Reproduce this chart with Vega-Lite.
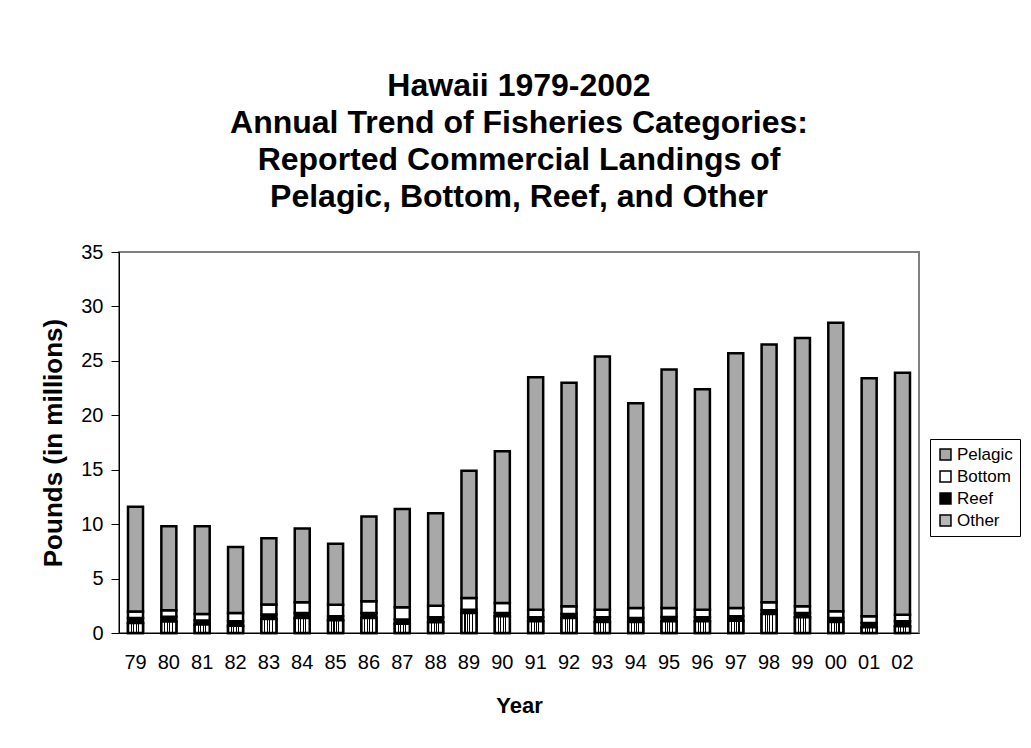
{
  "$schema": "https://vega.github.io/schema/vega-lite/v6.json",
  "width": 800,
  "height": 381,
  "padding": {"left": 40, "top": 70, "right": 0, "bottom": 0},
  "background": "white",
  "title": {
    "text": ["Hawaii 1979-2002", "Annual Trend of Fisheries Categories:", "Reported Commercial Landings of", "Pelagic, Bottom, Reef, and Other"],
    "font": "Liberation Sans",
    "fontSize": 32,
    "fontWeight": "bold",
    "lineHeight": 37,
    "color": "black",
    "anchor": "middle",
    "offset": 28
  },
  "datasets": {
    "landings": [
      {"year": "79", "category": "Other", "value": 0.92}, {"year": "79", "category": "Reef", "value": 0.46}, {"year": "79", "category": "Bottom", "value": 0.6}, {"year": "79", "category": "Pelagic", "value": 9.62},
      {"year": "80", "category": "Other", "value": 1.05}, {"year": "80", "category": "Reef", "value": 0.45}, {"year": "80", "category": "Bottom", "value": 0.6}, {"year": "80", "category": "Pelagic", "value": 7.7},
      {"year": "81", "category": "Other", "value": 0.77}, {"year": "81", "category": "Reef", "value": 0.37}, {"year": "81", "category": "Bottom", "value": 0.6}, {"year": "81", "category": "Pelagic", "value": 8.06},
      {"year": "82", "category": "Other", "value": 0.67}, {"year": "82", "category": "Reef", "value": 0.4}, {"year": "82", "category": "Bottom", "value": 0.77}, {"year": "82", "category": "Pelagic", "value": 6.06},
      {"year": "83", "category": "Other", "value": 1.29}, {"year": "83", "category": "Reef", "value": 0.4}, {"year": "83", "category": "Bottom", "value": 0.92}, {"year": "83", "category": "Pelagic", "value": 6.09},
      {"year": "84", "category": "Other", "value": 1.38}, {"year": "84", "category": "Reef", "value": 0.46}, {"year": "84", "category": "Bottom", "value": 0.98}, {"year": "84", "category": "Pelagic", "value": 6.78},
      {"year": "85", "category": "Other", "value": 1.16}, {"year": "85", "category": "Reef", "value": 0.37}, {"year": "85", "category": "Bottom", "value": 1.07}, {"year": "85", "category": "Pelagic", "value": 5.6},
      {"year": "86", "category": "Other", "value": 1.38}, {"year": "86", "category": "Reef", "value": 0.46}, {"year": "86", "category": "Bottom", "value": 1.07}, {"year": "86", "category": "Pelagic", "value": 7.79},
      {"year": "87", "category": "Other", "value": 0.86}, {"year": "87", "category": "Reef", "value": 0.37}, {"year": "87", "category": "Bottom", "value": 1.13}, {"year": "87", "category": "Pelagic", "value": 9.04},
      {"year": "88", "category": "Other", "value": 0.98}, {"year": "88", "category": "Reef", "value": 0.46}, {"year": "88", "category": "Bottom", "value": 1.07}, {"year": "88", "category": "Pelagic", "value": 8.49},
      {"year": "89", "category": "Other", "value": 1.84}, {"year": "89", "category": "Reef", "value": 0.3}, {"year": "89", "category": "Bottom", "value": 1.07}, {"year": "89", "category": "Pelagic", "value": 11.69},
      {"year": "90", "category": "Other", "value": 1.53}, {"year": "90", "category": "Reef", "value": 0.3}, {"year": "90", "category": "Bottom", "value": 0.92}, {"year": "90", "category": "Pelagic", "value": 13.95},
      {"year": "91", "category": "Other", "value": 1.07}, {"year": "91", "category": "Reef", "value": 0.37}, {"year": "91", "category": "Bottom", "value": 0.7}, {"year": "91", "category": "Pelagic", "value": 21.36},
      {"year": "92", "category": "Other", "value": 1.38}, {"year": "92", "category": "Reef", "value": 0.37}, {"year": "92", "category": "Bottom", "value": 0.7}, {"year": "92", "category": "Pelagic", "value": 20.55},
      {"year": "93", "category": "Other", "value": 1.01}, {"year": "93", "category": "Reef", "value": 0.43}, {"year": "93", "category": "Bottom", "value": 0.7}, {"year": "93", "category": "Pelagic", "value": 23.26},
      {"year": "94", "category": "Other", "value": 1.01}, {"year": "94", "category": "Reef", "value": 0.37}, {"year": "94", "category": "Bottom", "value": 0.92}, {"year": "94", "category": "Pelagic", "value": 18.8},
      {"year": "95", "category": "Other", "value": 1.07}, {"year": "95", "category": "Reef", "value": 0.4}, {"year": "95", "category": "Bottom", "value": 0.83}, {"year": "95", "category": "Pelagic", "value": 21.9},
      {"year": "96", "category": "Other", "value": 1.07}, {"year": "96", "category": "Reef", "value": 0.37}, {"year": "96", "category": "Bottom", "value": 0.7}, {"year": "96", "category": "Pelagic", "value": 20.26},
      {"year": "97", "category": "Other", "value": 1.13}, {"year": "97", "category": "Reef", "value": 0.4}, {"year": "97", "category": "Bottom", "value": 0.77}, {"year": "97", "category": "Pelagic", "value": 23.4},
      {"year": "98", "category": "Other", "value": 1.75}, {"year": "98", "category": "Reef", "value": 0.34}, {"year": "98", "category": "Bottom", "value": 0.74}, {"year": "98", "category": "Pelagic", "value": 23.67},
      {"year": "99", "category": "Other", "value": 1.44}, {"year": "99", "category": "Reef", "value": 0.4}, {"year": "99", "category": "Bottom", "value": 0.61}, {"year": "99", "category": "Pelagic", "value": 24.65},
      {"year": "00", "category": "Other", "value": 1.01}, {"year": "00", "category": "Reef", "value": 0.37}, {"year": "00", "category": "Bottom", "value": 0.61}, {"year": "00", "category": "Pelagic", "value": 26.51},
      {"year": "01", "category": "Other", "value": 0.52}, {"year": "01", "category": "Reef", "value": 0.4}, {"year": "01", "category": "Bottom", "value": 0.61}, {"year": "01", "category": "Pelagic", "value": 21.87},
      {"year": "02", "category": "Other", "value": 0.61}, {"year": "02", "category": "Reef", "value": 0.46}, {"year": "02", "category": "Bottom", "value": 0.61}, {"year": "02", "category": "Pelagic", "value": 22.22}
    ]
  },
  "data": {"name": "landings"},
  "transform": [
    {"calculate": "indexof(['Other', 'Reef', 'Bottom', 'Pelagic'], datum.category)", "as": "stackRank"}
  ],
  "encoding": {
    "x": {
      "field": "year",
      "type": "ordinal",
      "sort": null,
      "scale": {"paddingInner": 0.55, "paddingOuter": 0.27},
      "axis": {
        "title": "Year",
        "labelAngle": 0,
        "ticks": false,
        "labelPadding": 19,
        "titlePadding": 23,
        "titleFontSize": 22,
        "domainColor": "black",
        "domainWidth": 1
      }
    }
  },
  "layer": [
    {
      "mark": {"type": "bar", "stroke": "black", "strokeWidth": 2.5},
      "encoding": {
        "y": {
          "field": "value",
          "type": "quantitative",
          "stack": "zero",
          "scale": {"domain": [0, 35]},
          "axis": {
            "title": "Pounds (in millions)",
            "values": [0, 5, 10, 15, 20, 25, 30, 35],
            "grid": false,
            "tickSize": 8,
            "tickColor": "black",
            "labelPadding": 8,
            "titlePadding": 14,
            "titleFontSize": 26,
            "domainColor": "black",
            "domainWidth": 1
          }
        },
        "order": {"field": "stackRank", "type": "quantitative", "sort": "ascending"},
        "color": {
          "field": "category",
          "type": "nominal",
          "scale": {"domain": ["Pelagic", "Bottom", "Reef", "Other"], "range": ["#a8a8a8", "white", "black", "#b8b8b8"]},
          "legend": {
            "title": null,
            "orient": "none",
            "legendX": 811,
            "legendY": 187,
            "strokeColor": "black",
            "padding": 7,
            "fillColor": "white",
            "symbolType": "square",
            "symbolSize": 120,
            "symbolStrokeColor": "black",
            "symbolStrokeWidth": 1.5,
            "symbolOpacity": 1,
            "labelFontSize": 17,
            "labelFont": "Liberation Sans",
            "labelColor": "black",
            "labelOffset": 3,
            "rowPadding": 4
          }
        }
      }
    },
    {
      "transform": [{"filter": "datum.category === 'Other'"}],
      "mark": {
        "type": "bar",
        "stroke": "black",
        "strokeWidth": 2.5,
        "fill": {
          "gradient": "linear",
          "x1": 0, "y1": 0, "x2": 1, "y2": 0,
          "stops": [
            {"offset": 0, "color": "white"},
            {"offset": 0.2, "color": "white"}, {"offset": 0.2, "color": "black"},
            {"offset": 0.27, "color": "black"}, {"offset": 0.27, "color": "white"},
            {"offset": 0.36, "color": "white"}, {"offset": 0.36, "color": "black"},
            {"offset": 0.43, "color": "black"}, {"offset": 0.43, "color": "white"},
            {"offset": 0.52, "color": "white"}, {"offset": 0.52, "color": "black"},
            {"offset": 0.59, "color": "black"}, {"offset": 0.59, "color": "white"},
            {"offset": 0.68, "color": "white"}, {"offset": 0.68, "color": "black"},
            {"offset": 0.75, "color": "black"}, {"offset": 0.75, "color": "white"},
            {"offset": 1, "color": "white"}
          ]
        }
      },
      "encoding": {
        "y": {"field": "value", "type": "quantitative", "stack": null}
      }
    }
  ],
  "config": {
    "font": "Liberation Sans",
    "view": {"stroke": "#808080", "strokeWidth": 2},
    "axis": {
      "labelFont": "Liberation Sans",
      "labelFontSize": 20,
      "labelColor": "black",
      "titleFont": "Liberation Sans",
      "titleFontWeight": "bold",
      "titleColor": "black"
    }
  }
}
